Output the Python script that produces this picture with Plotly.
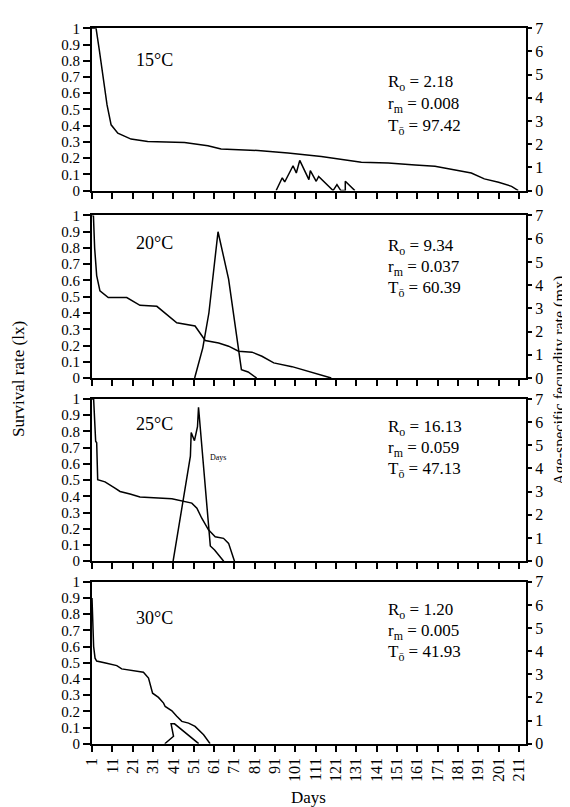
import plotly.graph_objects as go

# ---------------- data ----------------
temps = ["15°C", "20°C", "25°C", "30°C"]
Ro = ["2.18", "9.34", "16.13", "1.20"]
rm = ["0.008", "0.037", "0.059", "0.005"]
To = ["97.42", "60.39", "47.13", "41.93"]

lx15_day = [1, 3, 4.6, 7.1, 8.4, 10.4, 13.7, 20.2, 28.4, 46.5, 58, 64.5, 82.6, 97.4, 113.8, 133.5, 146.7, 160, 169.7, 187.6, 194, 201, 207.4, 210.7]
lx15 = [1, 1, 0.865, 0.64, 0.528, 0.405, 0.354, 0.317, 0.302, 0.296, 0.276, 0.256, 0.247, 0.231, 0.21, 0.174, 0.17, 0.158, 0.149, 0.108, 0.072, 0.051, 0.026, 0]
mx15_day = [91.6, 94.6, 95.8, 99.9, 101.5, 103.2, 107.7, 108.4, 111.3, 112.5, 119.6, 121.5, 123.4, 125.6, 125.6, 130.3]
mx15 = [0, 0.55, 0.37, 1.07, 0.76, 1.3, 0.47, 0.86, 0.4, 0.61, 0, 0.26, 0, 0, 0.4, 0]

lx20_day = [1, 1.7, 2.3, 3.3, 4.9, 9, 18.1, 24.6, 32.9, 42.7, 51.7, 56.7, 63.3, 68.2, 73.1, 79.7, 84.6, 90.4, 99.4, 118.7]
lx20 = [1, 1, 0.8, 0.63, 0.536, 0.495, 0.495, 0.447, 0.441, 0.34, 0.32, 0.231, 0.216, 0.196, 0.165, 0.159, 0.134, 0.093, 0.07, 0]
mx20_day = [51.5, 55.5, 58.5, 63, 68.2, 74.5, 77.8, 81.5, 82]
mx20 = [0, 1.3, 2.8, 6.3, 4.26, 0.36, 0.26, 0.05, 0]

lx25_day = [1, 1.8, 2.8, 3.3, 3.8, 7.4, 12.3, 14.8, 19.7, 24.6, 40.3, 46, 50.1, 52.6, 55, 58.3, 61.6, 65.7, 68.2, 71.1]
lx25 = [1, 1, 0.74, 0.73, 0.503, 0.489, 0.45, 0.43, 0.414, 0.396, 0.385, 0.368, 0.358, 0.327, 0.265, 0.193, 0.151, 0.141, 0.11, 0]
mx25_day = [40.9, 49.4, 49.8, 51.4, 52.9, 53.4, 59.2, 61.3, 64.5, 65.8]
mx25 = [0, 4.53, 5.55, 5.2, 5.8, 6.64, 0.66, 0.48, 0.14, 0]

lx30_day = [1, 1.8, 2.5, 3.3, 8.2, 13.2, 15.6, 26.3, 28.8, 30.8, 33.7, 36.2, 37, 40.3, 42.7, 45.2, 48.5, 51.7, 55.9, 59.1]
lx30 = [0.9, 0.6, 0.528, 0.51, 0.497, 0.482, 0.462, 0.441, 0.405, 0.312, 0.286, 0.251, 0.23, 0.203, 0.169, 0.138, 0.127, 0.107, 0.055, 0]
mx30_day = [36.8, 41.1, 39.9, 41.6, 53.5]
mx30 = [0, 0.32, 0.86, 0.86, 0]

x_ticks = list(range(1, 212, 10))
lx_series = [(lx15_day, lx15), (lx20_day, lx20), (lx25_day, lx25), (lx30_day, lx30)]
mx_series = [(mx15_day, mx15), (mx20_day, mx20), (mx25_day, mx25), (mx30_day, mx30)]

# ---------------- layout geometry ----------------
W, H = 570, 807
ML, MR, MT, MB = 84, 52, 18, 71
PH = H - MT - MB
PW = W - ML - MR
FONT = "Liberation Serif, Times New Roman, serif"

def py(p):
    return 1 - (p - MT) / PH

def px(p):
    return (p - ML) / PW

panels = [(18.3, 181), (206, 369), (390, 552.7), (573.3, 735.7)]
temp_rel = [31.7, 27.3, 25, 36]
stat_rel = [(55, 77, 99), (32, 53, 74), (29, 50, 71), (29, 50, 71)]

fig = go.Figure()
layout = dict(
    width=W, height=H,
    margin=dict(l=ML, r=MR, t=MT, b=MB),
    paper_bgcolor="white", plot_bgcolor="white",
    showlegend=False,
    font=dict(family=FONT, size=16, color="black"),
)
annotations = []

for k in range(4):
    xa = "x" if k == 0 else f"x{k+1}"
    ya1 = f"y{2*k+1}" if k > 0 else "y"
    ya2 = f"y{2*k+2}"
    fig.add_trace(go.Scatter(x=lx_series[k][0], y=lx_series[k][1], mode="lines",
                             line=dict(color="black", width=1.5), xaxis=xa, yaxis=ya1))
    fig.add_trace(go.Scatter(x=mx_series[k][0], y=mx_series[k][1], mode="lines",
                             line=dict(color="black", width=1.5), xaxis=xa, yaxis=ya2))
    top, bot = panels[k]
    dom = [py(bot), min(1, py(top))]
    xkey = "xaxis" if k == 0 else f"xaxis{k+1}"
    y1key = "yaxis" if k == 0 else f"yaxis{2*k+1}"
    y2key = f"yaxis{2*k+2}"
    layout[xkey] = dict(
        domain=[0, 1], anchor=ya1, range=[1, 214.5],
        tickmode="array", tickvals=x_ticks, ticktext=[str(v) for v in x_ticks],
        showticklabels=(k == 3), tickangle=-90,
        ticks="outside", ticklen=6, tickwidth=2, tickcolor="black",
        showline=True, linewidth=2, linecolor="black", mirror=True,
        showgrid=False, zeroline=False,
        tickfont=dict(family=FONT, size=16),
    )
    if k != 0:
        layout[xkey]["matches"] = "x"
    layout[y1key] = dict(
        domain=dom, anchor=xa, range=[0, 1], dtick=0.1, tick0=0,
        ticks="outside", ticklen=7, tickwidth=2, tickcolor="black",
        showline=True, linewidth=2, linecolor="black",
        showgrid=False, zeroline=False,
        tickfont=dict(family=FONT, size=15),
    )
    layout[y2key] = dict(
        domain=dom, anchor=xa, overlaying=ya1, side="right", range=[0, 7], dtick=1,
        ticks="outside", ticklen=4, tickwidth=2, tickcolor="black",
        showline=True, linewidth=2, linecolor="black",
        showgrid=False, zeroline=False,
        tickfont=dict(family=FONT, size=16),
    )
    annotations.append(dict(text=temps[k], xref="paper", yref="paper",
                            x=px(146.5), y=py(top + temp_rel[k]), xanchor="center", yanchor="middle",
                            showarrow=False, font=dict(family=FONT, size=18)))
    lines = [f"R<sub>o</sub> = {Ro[k]}", f"r<sub>m</sub> = {rm[k]}", f"T<sub>ō</sub> = {To[k]}"]
    for j, t in enumerate(lines):
        annotations.append(dict(text=t, xref="paper", yref="paper",
                                x=px(378), y=py(top + stat_rel[k][j]), xanchor="left", yanchor="middle",
                                showarrow=False, font=dict(family=FONT, size=17)))

annotations.append(dict(text="Days", xref="paper", yref="paper", x=px(210), y=py(449),
                        xanchor="center", yanchor="middle", showarrow=False,
                        font=dict(family=FONT, size=8)))
annotations.append(dict(text="Survival rate (lx)", xref="paper", yref="paper", x=px(10), y=py(370),
                        xanchor="center", yanchor="middle", textangle=-90, showarrow=False,
                        font=dict(family=FONT, size=17)))
annotations.append(dict(text="Age-specific fecundity rate (mx)", xref="paper", yref="paper", x=px(552), y=py(372),
                        xanchor="center", yanchor="middle", textangle=-90, showarrow=False,
                        font=dict(family=FONT, size=16)))
annotations.append(dict(text="Days", xref="paper", yref="paper", x=px(300.5), y=py(790),
                        xanchor="center", yanchor="middle", showarrow=False,
                        font=dict(family=FONT, size=17)))
layout["annotations"] = annotations
fig.update_layout(**layout)
fig.write_html("out.html")
